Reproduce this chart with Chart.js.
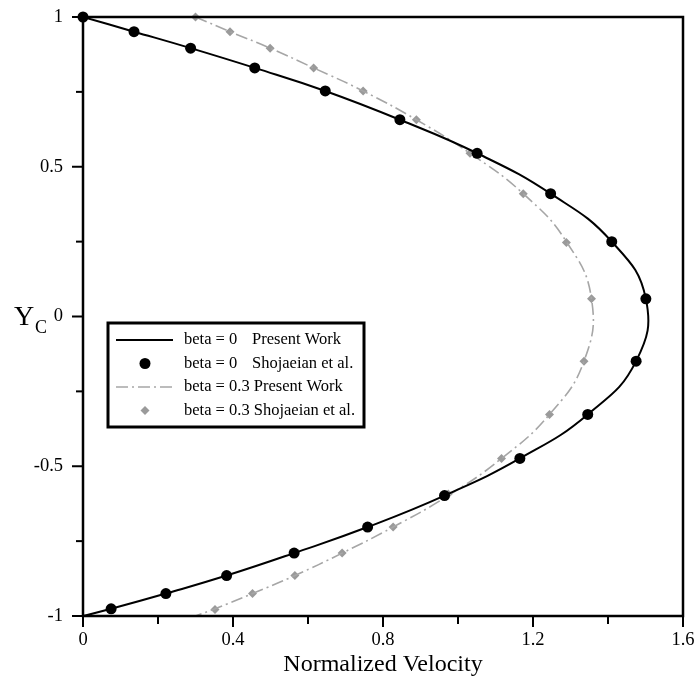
<!DOCTYPE html>
<html>
<head>
<meta charset="utf-8">
<script src="https://cdn.jsdelivr.net/npm/chart.js@4.4.1/dist/chart.umd.min.js"></script>
<style>
    body { margin: 0; background: #fff; }
    #wrap { width: 698px; height: 682px; }
</style>
</head>
<body>
<div id="wrap"><canvas id="myChart" width="698" height="682"></canvas></div>
<script>
// markers (Shojaeian et al.)
let beta0RefY = [1, 0.951, 0.896, 0.830, 0.753, 0.657, 0.545, 0.410, 0.250, 0.059, -0.149, -0.327, -0.474, -0.598, -0.703, -0.790, -0.865, -0.925, -0.976]
let beta0RefX = [0, 0.136, 0.287, 0.458, 0.646, 0.845, 1.051, 1.247, 1.410, 1.501, 1.475, 1.346, 1.165, 0.964, 0.759, 0.563, 0.383, 0.221, 0.075]
let beta03RefY = [1, 0.951, 0.896, 0.830, 0.753, 0.657, 0.545, 0.410, 0.247, 0.059, -0.149, -0.327, -0.474, -0.593, -0.703, -0.790, -0.865, -0.925, -0.978]
let beta03RefX = [0.300, 0.392, 0.499, 0.615, 0.747, 0.889, 1.032, 1.174, 1.289, 1.356, 1.336, 1.244, 1.116, 0.974, 0.827, 0.691, 0.565, 0.452, 0.352]

// present work curves
let lineY = [1, 0.951, 0.896, 0.830, 0.753, 0.657, 0.545, 0.410, 0.250, 0.059, -0.149, -0.327, -0.474, -0.598, -0.703, -0.790, -0.865, -0.925, -0.976, -1]
let beta0LineX = [0, 0.136, 0.287, 0.458, 0.646, 0.845, 1.051, 1.247, 1.410, 1.501, 1.475, 1.346, 1.165, 0.964, 0.759, 0.563, 0.383, 0.221, 0.075, 0]
let beta03LineX = [0.300, 0.392, 0.499, 0.615, 0.747, 0.889, 1.032, 1.174, 1.289, 1.356, 1.336, 1.244, 1.116, 0.974, 0.827, 0.691, 0.565, 0.452, 0.352, 0.300]

let xTickLabels = ['0', '0.4', '0.8', '1.2', '1.6']
let yTickLabels = ['-1', '-0.5', '0', '0.5', '1']
let legendRows = [
    ['beta = 0', 'Present Work'],
    ['beta = 0', 'Shojaeian et al.'],
    ['beta = 0.3 Present Work', ''],
    ['beta = 0.3 Shojaeian et al.', '']
]

let serif = "'Liberation Serif', 'Times New Roman', serif"
let grey = '#a6a6a6'
let greyMark = '#9a9a9a'
let dashDot = [12, 4, 2, 4]

function pts(xs, ys) {
    let out = []
    for (let i = 0; i < xs.length; i++) out.push({ x: xs[i], y: ys[i] })
    return out
}

let framePlugin = {
    id: 'framePlugin',
    afterDraw(chart) {
        let ctx = chart.ctx
        let a = chart.chartArea
        let xs = chart.scales.x
        let ys = chart.scales.y
        ctx.save()
        ctx.strokeStyle = '#000'
        ctx.lineWidth = 2
        for (let i = 0; i < xs.ticks.length; i++) {
            let px = xs.getPixelForTick(i)
            let len = i % 2 == 0 ? 11 : 8
            ctx.beginPath()
            ctx.moveTo(px, a.bottom)
            ctx.lineTo(px, a.bottom + len)
            ctx.stroke()
        }
        for (let i = 0; i < ys.ticks.length; i++) {
            let py = ys.getPixelForTick(i)
            let len = i % 2 == 0 ? 11 : 7
            ctx.beginPath()
            ctx.moveTo(a.left, py)
            ctx.lineTo(a.left - len, py)
            ctx.stroke()
        }
        ctx.lineWidth = 2.5
        ctx.strokeRect(a.left, a.top, a.right - a.left, a.bottom - a.top)

        // Y_C axis title
        ctx.fillStyle = '#000'
        ctx.textBaseline = 'alphabetic'
        ctx.textAlign = 'left'
        ctx.font = '28px ' + serif
        ctx.fillText('Y', 14, 325)
        ctx.font = '18px ' + serif
        ctx.fillText('C', 35, 333)

        // legend
        let bx = 108, by = 323, bw = 256, bh = 104
        ctx.fillStyle = '#fff'
        ctx.fillRect(bx, by, bw, bh)
        ctx.lineWidth = 3
        ctx.strokeStyle = '#000'
        ctx.strokeRect(bx, by, bw, bh)
        let rowY = [340, 363.5, 387, 410.5]
        let ds = chart.data.datasets
        for (let i = 0; i < 4; i++) {
            let d = ds[i]
            let y = rowY[i]
            if (d.showLine) {
                ctx.strokeStyle = d.borderColor
                ctx.lineWidth = d.borderWidth
                ctx.setLineDash(d.borderDash || [])
                ctx.beginPath()
                ctx.moveTo(116, y)
                ctx.lineTo(173, y)
                ctx.stroke()
                ctx.setLineDash([])
            } else {
                ctx.fillStyle = d.backgroundColor
                ctx.beginPath()
                if (d.pointStyle == 'rectRot') {
                    let r = d.pointRadius
                    ctx.moveTo(145, y - r)
                    ctx.lineTo(145 + r, y)
                    ctx.lineTo(145, y + r)
                    ctx.lineTo(145 - r, y)
                    ctx.closePath()
                } else {
                    ctx.arc(145, y, d.pointRadius, 0, Math.PI * 2)
                }
                ctx.fill()
            }
            ctx.fillStyle = '#000'
            ctx.font = '16.5px ' + serif
            ctx.textBaseline = 'middle'
            ctx.fillText(legendRows[i][0], 184, y)
            if (legendRows[i][1]) ctx.fillText(legendRows[i][1], 252, y)
        }
        ctx.restore()
    }
}

let ctx = document.getElementById('myChart').getContext('2d')
let myChart = new Chart(ctx, {
    type: 'scatter',
    data: {
        datasets: [
            {
                label: 'beta = 0   Present Work',
                data: pts(beta0LineX, lineY),
                showLine: true,
                borderColor: '#000',
                borderWidth: 2,
                pointRadius: 0,
                tension: 0.45
            },
            {
                label: 'beta = 0   Shojaeian et al.',
                data: pts(beta0RefX, beta0RefY),
                showLine: false,
                backgroundColor: '#000',
                borderColor: '#000',
                borderWidth: 0,
                pointRadius: 5.5,
                pointStyle: 'circle',
                clip: false
            },
            {
                label: 'beta = 0.3 Present Work',
                data: pts(beta03LineX, lineY),
                showLine: true,
                borderColor: grey,
                borderWidth: 1.6,
                borderDash: dashDot,
                pointRadius: 0,
                tension: 0.45
            },
            {
                label: 'beta = 0.3 Shojaeian et al.',
                data: pts(beta03RefX, beta03RefY),
                showLine: false,
                backgroundColor: greyMark,
                borderColor: greyMark,
                borderWidth: 0,
                pointRadius: 4.5,
                pointStyle: 'rectRot',
                clip: false
            }
        ]
    },
    options: {
        responsive: false,
        animation: false,
        layout: { padding: { top: 17, right: 15, left: 0, bottom: 0 } },
        plugins: {
            legend: { display: false },
            tooltip: { enabled: false }
        },
        scales: {
            x: {
                type: 'linear',
                min: 0,
                max: 1.6,
                grid: { display: true, drawOnChartArea: false, drawTicks: true, tickLength: 13, tickColor: 'rgba(0,0,0,0)' },
                border: { display: false },
                ticks: {
                    stepSize: 0.2,
                    autoSkip: false,
                    maxRotation: 0,
                    padding: 0,
                    color: '#000',
                    font: { family: serif, size: 18.5 },
                    callback: function (v, i) { return i % 2 == 0 ? xTickLabels[i / 2] : '' }
                },
                title: {
                    display: true,
                    text: 'Normalized Velocity',
                    color: '#000',
                    font: { family: serif, size: 24 },
                    padding: { top: 0, bottom: 3 }
                },
                afterFit: function (scale) { scale.height = 66 }
            },
            y: {
                type: 'linear',
                min: -1,
                max: 1,
                grid: { display: true, drawOnChartArea: false, drawTicks: true, tickLength: 20, tickColor: 'rgba(0,0,0,0)' },
                border: { display: false },
                ticks: {
                    stepSize: 0.25,
                    autoSkip: false,
                    padding: 0,
                    color: '#000',
                    font: { family: serif, size: 18.5 },
                    callback: function (v, i) { return i % 2 == 0 ? yTickLabels[i / 2] : '' }
                },
                afterFit: function (scale) { scale.width = 83 }
            }
        }
    },
    plugins: [framePlugin]
})
</script>
</body>
</html>
